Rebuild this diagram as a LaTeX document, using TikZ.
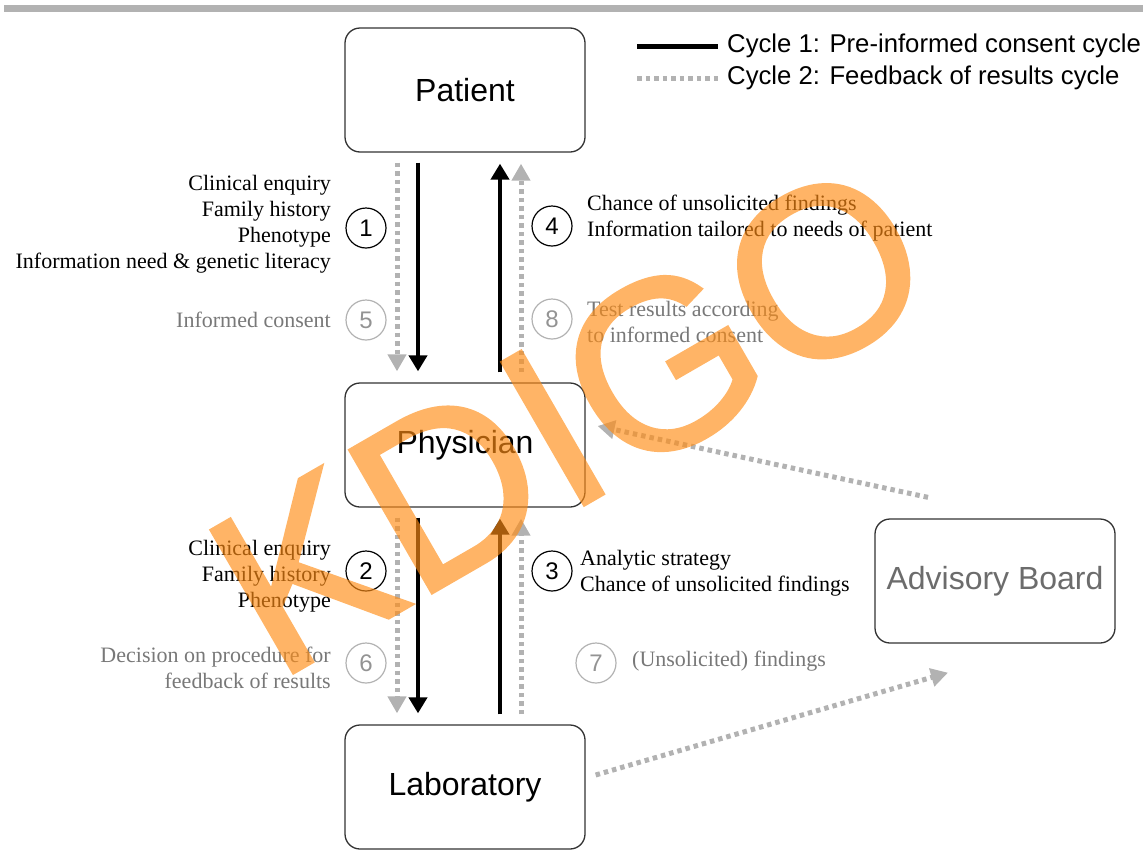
\documentclass[tikz,border=0pt]{standalone}
\usepackage{fontspec}
\setmainfont{Liberation Serif}
\setsansfont{Liberation Sans}
\newfontfamily\wmfont[FakeBold=1.2]{Liberation Sans}
\usepackage{tikz}
\usetikzlibrary{arrows.meta,shapes,positioning}
\definecolor{dotgray}{RGB}{178,178,178}
\definecolor{txtgray}{RGB}{120,120,120}
\definecolor{kdorange}{RGB}{255,140,20}

\begin{document}
\begin{tikzpicture}[x=1pt, y=-1pt,
    box/.style={draw=black!80, line width=1.3pt, rounded corners=15pt, minimum width=240pt, minimum height=124pt, font=\sffamily\fontsize{32}{32}\selectfont},
    num/.style={draw, circle, line width=1.2pt, minimum size=40pt, inner sep=0pt, font=\sffamily\fontsize{24}{24}\selectfont},
    numg/.style={num, draw=dotgray, text=txtgray!80},
    lbl/.style={font=\fontsize{22}{26}\selectfont, inner sep=0pt},
    cyc1/.style={line width=4.5pt, -{Triangle[width=18pt,length=16pt]}, shorten <=10pt, shorten >=11pt},
    cyc2/.style={draw=dotgray, line width=5pt, dash pattern=on 4.5pt off 4pt, -{Triangle[width=18pt,length=17pt]}, shorten <=10pt, shorten >=11pt}]
          \useasboundingbox (0,0) rectangle (1143,849);
          \fill[dotgray] (4,5) rectangle (1143,12);
          \node[box] at (465,90) (Pat) {Patient};
          \node[box] at (465,445) (Phy) {Physician};
          \node[box] at (465,787) (Lab) {Laboratory};
          \node[box, text=txtgray!90!black] at (995,581) (Adv) {Advisory Board};
          \draw[cyc2] ([xshift=-68pt]Pat.south) -- ([xshift=-68pt]Phy.north);
          \draw[cyc1] ([xshift=-47pt]Pat.south) -- ([xshift=-47pt]Phy.north);
          \draw[cyc1] ([xshift=35pt]Phy.north) -- ([xshift=35pt]Pat.south);
          \draw[cyc2] ([xshift=56pt]Phy.north) -- ([xshift=56pt]Pat.south);
          \draw[cyc2] ([xshift=-68pt]Phy.south) -- ([xshift=-68pt]Lab.north);
          \draw[cyc1] ([xshift=-47pt]Phy.south) -- ([xshift=-47pt]Lab.north);
          \draw[cyc1] ([xshift=35pt]Lab.north) -- ([xshift=35pt]Phy.south);
          \draw[cyc2] ([xshift=56pt]Lab.north) -- ([xshift=56pt]Phy.south);
          \draw[cyc2, shorten <=0pt, shorten >=0pt] ([xshift=10pt,yshift=12pt]Lab.east) -- ([xshift=-47pt,yshift=-29pt]Adv.south);
          \draw[cyc2, shorten <=0pt, shorten >=0pt] ([xshift=-67pt,yshift=21pt]Adv.north) -- ([xshift=12pt,yshift=19pt]Phy.east);
          \node[num] at (366,228) (1) {1};
          \node[numg] at (366,320) (5) {5};
          \node[num] at (552,226) (4) {4};
          \node[numg] at (552,319) (8) {8};
          \node[num] at (366,571) (2) {2};
          \node[numg] at (366,663) (6) {6};
          \node[num] at (552,571) (3) {3};
          \node[numg] at (596,663) (7) {7};
          \node[lbl, anchor=east, align=right] at (331,224) (t1) {Clinical enquiry\\Family history\\Phenotype\\Information need \& genetic literacy};
          \node[lbl, anchor=east, align=right, text=txtgray] at (331,320) (t5) {Informed consent};
          \node[lbl, anchor=west, align=left] at (587,218) (t4) {Chance of unsolicited findings\\Information tailored to needs of patient};
          \node[lbl, anchor=west, align=left, text=txtgray] at (587,322) (t8) {Test results according\\to informed consent};
          \node[lbl, anchor=east, align=right] at (331,576) (t2) {Clinical enquiry\\Family history\\Phenotype};
          \node[lbl, anchor=east, align=right, text=txtgray] at (331,668) (t6) {Decision on procedure for\\feedback of results};
          \node[lbl, anchor=west, align=left] at (580,573) (t3) {Analytic strategy\\Chance of unsolicited findings};
          \node[lbl, anchor=west, align=left, text=txtgray] at (632,661) (t7) {(Unsolicited) findings};
          \node[anchor=west, inner sep=0pt, font=\sffamily\fontsize{25.7}{26}\selectfont] at (727,46) (L1) {Cycle 1: Pre-informed consent cycle};
          \node[anchor=west, inner sep=0pt, font=\sffamily\fontsize{25.7}{26}\selectfont] at (727,78) (L2) {Cycle 2: Feedback of results cycle};
          \draw[line width=5pt] ([xshift=-90pt]L1.west) -- ([xshift=-9pt]L1.west);
          \draw[dotgray, line width=5pt, dash pattern=on 4.5pt off 4pt] ([xshift=-90pt]L2.west) -- ([xshift=-9pt]L2.west);
          \begin{scope}[transparency group, opacity=0.65]
            \node[rotate=30, text=kdorange, font=\wmfont\fontsize{240}{240}\selectfont] at (570,418) (KD) {KDIGO};
          \end{scope}
\end{tikzpicture}
\end{document}
